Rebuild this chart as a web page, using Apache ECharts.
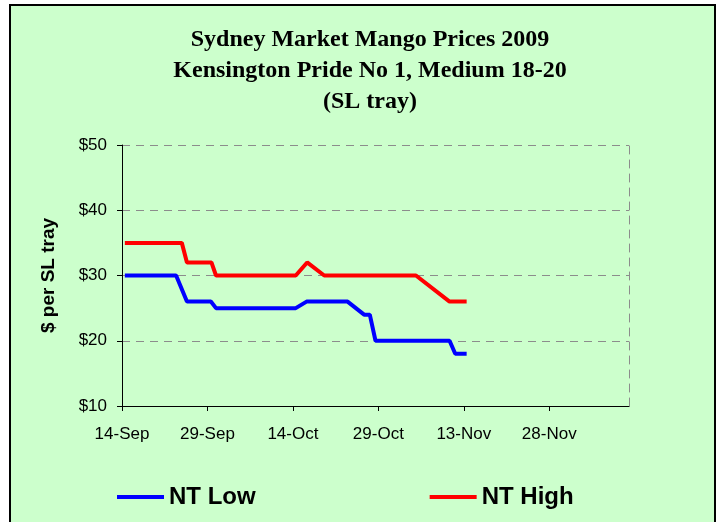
<!DOCTYPE html>
<html>
<head>
<meta charset="utf-8">
<script src="https://cdn.jsdelivr.net/npm/echarts@6/dist/echarts.min.js"></script>
<style>
html,body{margin:0;padding:0;background:#fff;}
#wrap{position:absolute;left:9px;top:4px;width:707px;height:522px;border:2px solid #000;border-bottom:none;box-sizing:border-box;background:#CCFFCC;}
#chart{position:absolute;left:0;top:0;width:724px;height:522px;}
</style>
</head>
<body>
<div id="wrap"></div>
<div id="chart"></div>
<script>
// x values: days after 14-Sep-2009
const tickLabels = ["14-Sep", "29-Sep", "14-Oct", "29-Oct", "13-Nov", "28-Nov"];
const ntLowDays  = [0.5, 9.5, 11.4, 15.6, 16.5, 30.5, 32.4, 39.6, 42.5, 43.5, 44.5, 57.5, 58.5, 60.5];
const ntLowVals  = [30, 30, 26, 26, 25, 25, 26, 26, 24, 24, 20, 20, 18, 18];
const ntHighDays = [0.5, 10.5, 11.4, 15.7, 16.5, 30.5, 32.5, 35.5, 51.6, 57.5, 60.5];
const ntHighVals = [35, 35, 32, 32, 30, 30, 32, 30, 30, 26, 26];
const titleLines = ["Sydney Market Mango Prices 2009", "Kensington Pride No 1, Medium 18-20", "(SL tray)"];

const chart = echarts.init(document.getElementById('chart'), null, {renderer: 'canvas'});
const pairs = (xs, ys) => xs.map((x, i) => [x, ys[i]]);
chart.setOption({
  backgroundColor: 'transparent',
  animation: false,
  title: {
    text: titleLines.join('\n'),
    left: 365, top: 19, textAlign: 'center',
    textStyle: {fontFamily: 'Liberation Serif', fontWeight: 'bold', fontSize: 24, lineHeight: 31, color: '#000'}
  },
  legend: {
    top: 480, left: 112, itemGap: 174, itemWidth: 47, itemHeight: 4,
    icon: 'rect',
    textStyle: {fontFamily: 'Liberation Sans', fontWeight: 'bold', fontSize: 24, color: '#000', padding: [0, 0, 0, 0]},
    data: ['NT Low', 'NT High']
  },
  grid: {left: 122, right: 95, top: 145, bottom: 116},
  xAxis: {
    type: 'value', min: 0, max: 89, interval: 15,
    axisLine: {lineStyle: {color: '#000', width: 1}},
    axisTick: {show: true, length: 5, lineStyle: {color: '#000'}},
    axisLabel: {
      margin: 20, color: '#000', fontFamily: 'Liberation Sans', fontSize: 17,
      showMaxLabel: false,
      formatter: v => tickLabels[Math.round(v / 15)] || ''
    },
    splitLine: {show: false}
  },
  yAxis: [{
    type: 'value', min: 10, max: 50, interval: 10,
    name: '$ per SL tray', nameLocation: 'middle', nameGap: 64, nameRotate: 90,
    nameTextStyle: {fontFamily: 'Liberation Sans', fontWeight: 'bold', fontSize: 19, color: '#000'},
    axisLine: {show: true, lineStyle: {color: '#000', width: 1}},
    axisTick: {show: true, length: 5, lineStyle: {color: '#000'}},
    axisLabel: {margin: 15, color: '#000', fontFamily: 'Liberation Sans', fontSize: 17, formatter: v => '$' + v},
    splitLine: {show: true, lineStyle: {color: '#8c8c8c', type: [8, 6], width: 1}}
  }, {
    type: 'value', min: 10, max: 50, interval: 10, position: 'right',
    axisLine: {show: true, lineStyle: {color: '#8c8c8c', type: [8, 6], width: 1}},
    axisTick: {show: false}, axisLabel: {show: false}, splitLine: {show: false}
  }],
  series: [{
    name: 'NT Low', type: 'line', data: pairs(ntLowDays, ntLowVals),
    showSymbol: false, color: '#0000FF', lineStyle: {width: 4, color: '#0000FF'}
  }, {
    name: 'NT High', type: 'line', data: pairs(ntHighDays, ntHighVals),
    showSymbol: false, color: '#FF0000', lineStyle: {width: 4, color: '#FF0000'}
  }]
});
</script>
</body>
</html>
